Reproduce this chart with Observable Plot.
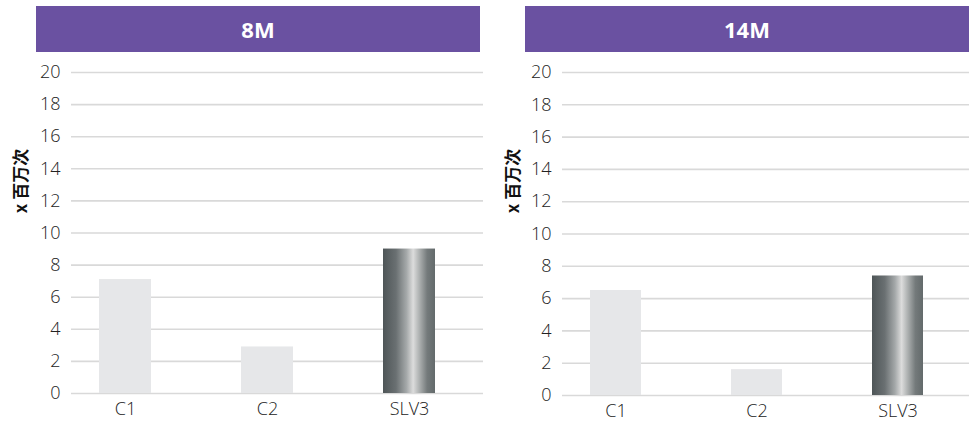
<!DOCTYPE html>
<html>
<head>
<meta charset="utf-8">
<script src="https://cdn.jsdelivr.net/npm/d3@7"></script>
<script src="https://cdn.jsdelivr.net/npm/@observablehq/plot@0.6"></script>
<style>
  html, body { margin: 0; padding: 0; background: #fff; }
  #wrap { position: relative; width: 978px; height: 423px; overflow: hidden; }
  .header { position: absolute; top: 6px; height: 46px; width: 444px; background: #6a51a1; color: #fff;
    font-family: "Noto Sans", "Open Sans", sans-serif; font-weight: bold; font-size: 22px;
    display: flex; align-items: center; justify-content: center; }
  .ylab { position: absolute; font-family: "Noto Sans CJK SC", "Noto Sans", sans-serif; font-weight: bold;
    font-size: 17px; color: #111; white-space: nowrap; transform: translate(-50%, -50%) rotate(-90deg); }
  .panel { position: absolute; top: 52px; }
  .panel svg { font-family: "Open Sans", "Noto Sans", sans-serif; }
  .panel svg text { font-weight: 300; }
</style>
</head>
<body>
<div id="wrap"></div>
<script>
const categories = ["C1", "C2", "SLV3"];
const panelTitles = ["8M", "14M"];
const values8M = [7.1, 2.9, 9.0];
const values14M = [6.5, 1.6, 7.4];
const yTicks = [0, 2, 4, 6, 8, 10, 12, 14, 16, 18, 20];
const yLabel = "x 百万次";

const wrap = document.getElementById("wrap");

function makePanel(idx, values, cfg) {
  const data = categories.map((c, i) => ({cat: c, v: values[i]}));
  const gid = "grad" + idx;
  const svg = Plot.plot({
    width: 489,
    height: 371,
    marginTop: 20,
    marginBottom: cfg.mb,
    marginLeft: cfg.ml,
    marginRight: cfg.mr,
    style: {fontSize: "18px", color: "#222", background: "transparent"},
    x: {domain: categories, range: cfg.xr, paddingInner: 0.635, paddingOuter: 0.3175, label: null},
    y: {domain: [0, 20], ticks: yTicks, label: null},
    marks: [
      Plot.ruleY(yTicks, {stroke: "#d9d9d9", strokeWidth: 1.6}),
      Plot.barY(data, {x: "cat", y: "v", fill: d => d.cat === "SLV3" ? `url(#${gid})` : "#e6e7e9"}),
      Plot.axisX({tickSize: 0, tickPadding: 9, fill: "#222"}),
      Plot.axisY({ticks: yTicks, tickSize: 0, tickPadding: 11, fill: "#222", label: null})
    ]
  });
  const defs = d3.select(svg).insert("defs", ":first-child");
  const g = defs.append("linearGradient").attr("id", gid).attr("x1", "0").attr("x2", "1").attr("y1", "0").attr("y2", "0");
  [[0, "#4e5557"], [0.25, "#6a7072"], [0.45, "#a4a8a9"], [0.58, "#dcdcdc"], [0.68, "#b5b8b8"], [0.85, "#747a7b"], [1, "#636a6b"]]
    .forEach(([o, c]) => g.append("stop").attr("offset", o).attr("stop-color", c));

  const p = document.createElement("div");
  p.className = "panel";
  p.style.left = cfg.left + "px";
  p.appendChild(svg);
  wrap.appendChild(p);

  const h = document.createElement("div");
  h.className = "header";
  h.style.left = cfg.hx + "px";
  h.textContent = panelTitles[idx];
  wrap.appendChild(h);

  const l = document.createElement("div");
  l.className = "ylab";
  l.style.left = cfg.lx + "px";
  l.style.top = "181px";
  l.textContent = yLabel;
  wrap.appendChild(l);
}

makePanel(0, values8M, {left: 0, ml: 71, mr: 6, mb: 30, xr: [53, 481], hx: 36, lx: 19});
makePanel(1, values14M, {left: 489, ml: 73, mr: 9, mb: 28, xr: [56, 480], hx: 525, lx: 511});
</script>
</body>
</html>
